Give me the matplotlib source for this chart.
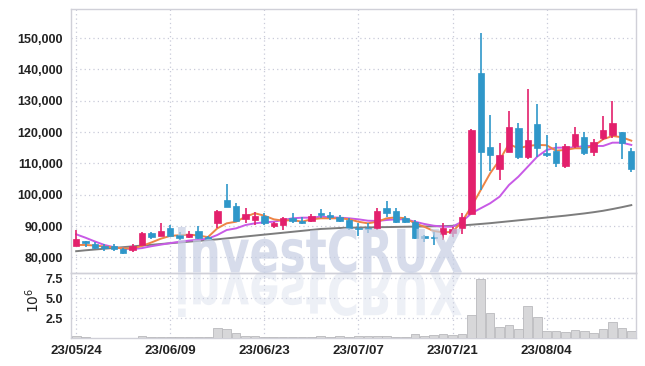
import numpy as np
import matplotlib
matplotlib.use("Agg")
import matplotlib.pyplot as plt
from matplotlib.textpath import TextPath
from matplotlib.patches import PathPatch
from matplotlib.font_manager import FontProperties
import matplotlib.transforms as mtransforms
from matplotlib.ticker import FuncFormatter

# ============================================================
# Données
# ============================================================

tick_pos = [0, 10, 20, 30, 40, 50]
tick_labels = ["23/05/24", "23/06/09", "23/06/23", "23/07/07", "23/07/21", "23/08/04"]

open_ = [83700, 85300, 84300, 83800, 83800, 82700, 82500, 84000, 87700, 86850,
         89500, 87200, 86450, 88450, 86600, 90900, 98300, 96500, 92200, 92000,
         93200, 90150, 90350, 92700, 91740, 91740, 94100, 93550, 93000, 91960,
         89500, 89500, 89300, 95900, 94830, 92700, 91420, 86860, 86640, 87400,
         87700, 89300, 93800, 138700, 115300, 108200, 113700, 121400, 112200, 122600,
         113400, 114000, 109200, 115400, 118400, 113600, 118200, 119000, 120100, 114000]
high = [88800, 85400, 85000, 84200, 84400, 83100, 84200, 88000, 88100, 90900,
        90400, 88000, 88550, 90000, 87000, 95200, 103400, 97300, 95700, 94600,
        94100, 91400, 92900, 94100, 93000, 94000, 95500, 94600, 93600, 92500,
        91000, 91000, 95900, 98000, 95900, 93300, 91900, 87200, 88100, 90900,
        89800, 94300, 121000, 151500, 125600, 116400, 126700, 122800, 133600, 128900,
        119200, 116600, 116100, 121500, 119900, 117800, 125100, 129900, 120100, 114800]
low = [83600, 83200, 82700, 82000, 82000, 81000, 81900, 84000, 85900, 86850,
       86800, 85600, 86100, 86000, 85600, 89300, 96200, 91600, 90900, 90350,
       90350, 89300, 88800, 90900, 90600, 91400, 92500, 92000, 91400, 88800,
       86700, 87700, 88800, 93000, 91000, 90900, 86000, 84800, 83900, 85600,
       86500, 87600, 93800, 101500, 107700, 104700, 113700, 111300, 111300, 112200,
       112200, 109000, 108400, 115000, 112700, 112300, 117500, 118200, 111400, 107400]
close = [85900, 84600, 83100, 83000, 82700, 81500, 83700, 87700, 86400, 88550,
         86950, 86300, 87600, 86300, 85900, 94900, 96200, 91740, 93900, 93200,
         90900, 90900, 92500, 91740, 91100, 93230, 93550, 92820, 91740, 89300,
         89100, 89000, 94830, 94100, 91420, 91230, 86300, 86300, 86300, 89500,
         89100, 92820, 120700, 113500, 112700, 112700, 121700, 112200, 117500, 114800,
         112700, 110000, 115600, 119400, 113400, 116700, 120700, 122800, 116400, 108100]

# volume en millions d'actions
vol_m = [0.30, 0.08, 0.05, 0.05, 0.05, 0.05, 0.05, 0.25, 0.08, 0.08,
         0.08, 0.08, 0.08, 0.08, 0.10, 1.20, 1.10, 0.60, 0.30, 0.25,
         0.10, 0.10, 0.08, 0.08, 0.08, 0.10, 0.20, 0.10, 0.20, 0.15,
         0.30, 0.20, 0.30, 0.30, 0.15, 0.15, 0.50, 0.30, 0.35, 0.50,
         0.40, 0.50, 2.90, 7.45, 3.20, 1.35, 1.60, 1.10, 4.00, 2.60,
         0.85, 0.85, 0.70, 0.95, 0.85, 0.60, 1.10, 2.00, 1.25, 0.85]

# moyennes mobiles
ma_short = [84000, 84000, 83800, 83500, 83200, 82900, 82900, 83700, 84800, 86000,
            86900, 87100, 87300, 87000, 86500, 89300, 90900, 91420, 93000, 94100,
            93330, 92180, 91740, 91960, 91420, 92180, 92500, 92500, 92500, 92200,
            91400, 90900, 91400, 92500, 92800, 92500, 90900, 89800, 88450, 88000,
            88200, 91400, 96200, 101530, 106860, 111100, 116200, 114800, 115570, 115900,
            115800, 114070, 114300, 114830, 114830, 115570, 117700, 118760, 118340, 117260]
ma_mid = [87400, 86300, 85100, 84000, 83300, 82800, 82700, 83000, 83600, 84100,
          84600, 85000, 85400, 85700, 86000, 87180, 88770, 89300, 90360, 90900,
          91230, 91420, 91960, 92500, 92700, 92700, 93010, 92820, 92700, 92500,
          92180, 91740, 91640, 91960, 92180, 92180, 91420, 90700, 90140, 89830,
          89830, 91420, 94100, 95700, 97290, 99400, 103130, 105780, 108970, 112160,
          114300, 115030, 115030, 115100, 115570, 115570, 115570, 116620, 116620, 115900]
ma_long = [82000, 82300, 82550, 82800, 83050, 83300, 83550, 83800, 84050, 84300,
           84550, 84800, 85050, 85300, 85550, 85800, 86100, 86400, 86700, 87000,
           87300, 87600, 87900, 88200, 88500, 88800, 89100, 89250, 89400, 89500,
           89550, 89600, 89650, 89700, 89750, 89800, 89850, 89900, 89950, 90000,
           90100, 90250, 90450, 90700, 90950, 91250, 91550, 91850, 92150, 92450,
           92750, 93050, 93350, 93700, 94050, 94450, 94900, 95450, 96050, 96700]

# ============================================================
# Style
# ============================================================

plt.rcParams['font.family'] = ['Liberation Sans Narrow', 'Liberation Sans', 'DejaVu Sans']

RED = '#e3206c'
BLUE = '#2f97c9'
GRID = '#c9cbd9'
SPINE = '#d0d0d8'
TXT = '#222222'

fig = plt.figure(figsize=(6.45, 3.66), dpi=100, facecolor='white')
ax = fig.add_axes([71 / 645, 1 - 272.5 / 366, 565 / 645, 263.5 / 366])
axv = fig.add_axes([71 / 645, 1 - 338 / 366, 565 / 645, 65.5 / 366], sharex=ax)
for a in (ax, axv):
    a.set_facecolor('none')
    for s in a.spines.values():
        s.set_color(SPINE)
        s.set_linewidth(1.0)
    a.tick_params(length=0, labelsize=9, colors=TXT, pad=6)
    a.grid(True, color=GRID, linestyle=(0, (1, 2.5)), linewidth=0.9)
    a.set_axisbelow(True)

# ============================================================
# Bougies
# ============================================================

x = np.arange(len(close))
o = np.array(open_, dtype=float)
c = np.array(close, dtype=float)
up = c >= o
colors = np.where(up, RED, BLUE)

body_low = np.minimum(o, c)
body_h = np.maximum(np.abs(c - o), 350)

ax.plot(x, ma_long, color='#7d7d7d', lw=1.4, zorder=2)
ax.plot(x, ma_mid, color='#c85ae6', lw=1.4, zorder=3)
ax.plot(x, ma_short, color='#ee8446', lw=1.4, zorder=3)

ax.vlines(x, low, high, colors=colors, lw=1.2, zorder=4)
ax.bar(x, body_h, bottom=body_low, width=0.68, color=colors, edgecolor=colors,
       linewidth=0.5, zorder=5)

ax.set_xlim(-0.55, 59.5)
ax.set_ylim(75216, 159250)
ax.set_yticks(np.arange(80000, 150001, 10000))
ax.yaxis.set_major_formatter(FuncFormatter(lambda v, p: f"{int(v):,}"))
plt.setp(ax.get_xticklabels(), visible=False)

# ============================================================
# Volume
# ============================================================

axv.bar(x, vol_m, width=0.92, color='#d7d7d9', edgecolor='#b9b9bd', linewidth=0.6, zorder=3)
axv.set_ylim(0, 8.23)
axv.set_yticks([2.5, 5.0, 7.5])
axv.set_yticklabels(['2.5', '5.0', '7.5'])
axv.set_xticks(tick_pos)
axv.set_xticklabels(tick_labels, fontsize=9.5)
axv.tick_params(axis='x', pad=5)
for lab in ax.get_yticklabels() + axv.get_yticklabels() + axv.get_xticklabels():
    lab.set_fontweight('bold')
fig.text(33 / 645, 1 - 300 / 366, r'$10^6$', rotation=90, ha='center', va='center',
         fontsize=10, color=TXT)

# ============================================================
# Filigrane
# ============================================================

fp = FontProperties(family='DejaVu Sans', weight='bold')
tp = TextPath((0, 0), 'investCRUX', size=1, prop=fp)
bb = tp.get_extents()
sx = 284 / bb.width / 645
sy = 45 / bb.y1 / 366
x0 = 178 / 645
y0 = 1 - 272 / 366
tr = mtransforms.Affine2D().translate(-bb.x0, 0).scale(sx, sy).translate(x0, y0)
wm = PathPatch(tr.transform_path(tp), transform=fig.transFigure,
               facecolor='#c6cee3', edgecolor='none', alpha=0.7, zorder=1)
fig.add_artist(wm)
tr2 = mtransforms.Affine2D().translate(-bb.x0, 0).scale(sx, -sy).translate(x0, y0)
wm2 = PathPatch(tr2.transform_path(tp), transform=fig.transFigure,
                facecolor='#c6cee3', edgecolor='none', alpha=0.3, zorder=1)
fig.add_artist(wm2)

fig.savefig("out.png", dpi=100)
